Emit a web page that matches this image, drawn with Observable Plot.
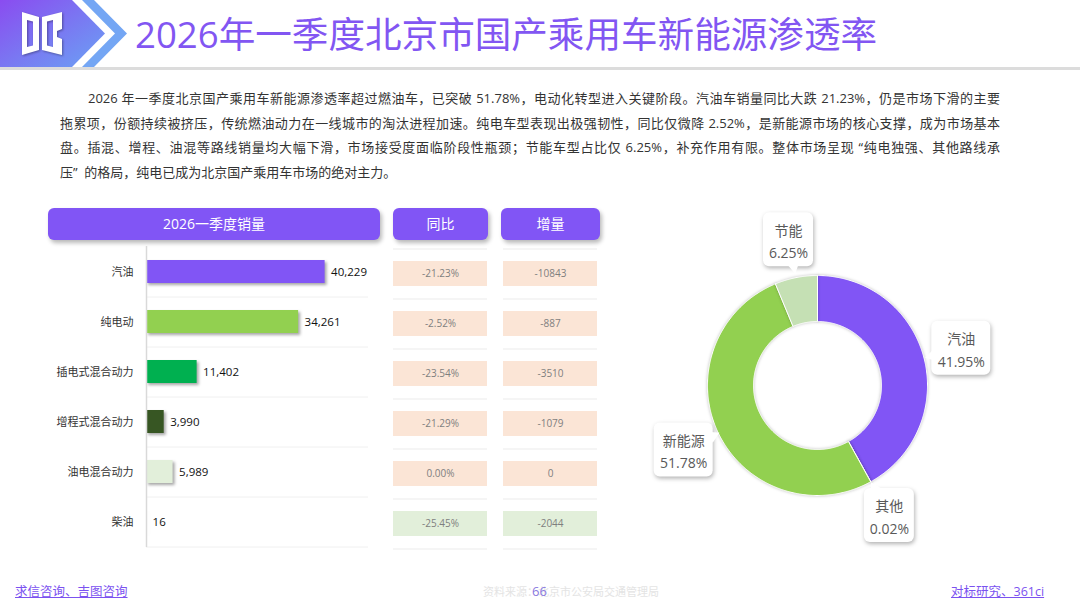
<!DOCTYPE html>
<html><head><meta charset="utf-8">
<script src="https://cdn.jsdelivr.net/npm/d3@7"></script>
<script src="https://cdn.jsdelivr.net/npm/@observablehq/plot@0.6"></script>
<style>
body{margin:0;width:1080px;height:607px;overflow:hidden;background:#fff;position:relative;font-family:"Open Sans","Noto Sans CJK SC",sans-serif;}
.abs{position:absolute}
.title{left:135px;top:8px;font-size:36.6px;line-height:52px;color:#8256f2;white-space:nowrap;font-family:"Open Sans","Noto Sans CJK SC",sans-serif;}
.para{left:60px;width:940px;top:86px;font-size:13px;color:#333;}
.para div{height:24.7px;line-height:24.7px;text-align:justify;text-align-last:justify;}
.para div.last{text-align-last:left;}
.btn{background:#8155f5;color:#fff;border-radius:6px;box-shadow:2px 3px 4px rgba(0,0,0,.28);text-align:center;font-size:14px;line-height:32px;height:32px;top:208px;}
.foot{font-size:12.5px;color:#7b52f0;text-decoration:underline;top:581px;}
#bars g[aria-label="bar"] rect{filter:drop-shadow(2px 2px 1.5px rgba(0,0,0,.35));}
#donut g[aria-label="rect"] rect{filter:drop-shadow(1px 2px 2px rgba(0,0,0,.3));}
#donut g[aria-label="line"]{filter:drop-shadow(0px 0px 1.5px rgba(0,0,0,.25));}
</style></head><body>
<svg class="abs" style="left:0;top:0" width="1080" height="72">
  <defs>
    <linearGradient id="hg" x1="0" y1="0" x2="1" y2="1">
      <stop offset="0" stop-color="#8a4cf0"/><stop offset="1" stop-color="#6aa2f4"/>
    </linearGradient>
  </defs>
  <rect x="0" y="67" width="1080" height="3" fill="#dcdcdc"/>
  <polygon points="0,0 72,0 105,33.5 72,67 0,67" fill="url(#hg)"/>
  <polygon points="82,0 94,0 127,33.5 94,67 82,67 115,33.5" fill="#74a6f4"/>
  <g filter="drop-shadow(1px 1px 1px rgba(0,0,0,.35))">
    <path d="M22,12 L39,17 L39,50 L22,55 Z M27,20 L27,47 L33,45.5 L33,21.5 Z" fill="#fff" fill-rule="evenodd"/>
    <path d="M42,17 L62,12 L62,29 L57,31 L57,37 L62,39 L62,55 L42,50 Z M47,21.5 L47,45.5 L53,47 L53,20 Z" fill="#fff" fill-rule="evenodd"/>
  </g>
</svg>
<div class="abs title">2026年一季度北京市国产乘用车新能源渗透率</div>
<div class="abs para">
  <div style="text-indent:28px">2026 年一季度北京国产乘用车新能源渗透率超过燃油车，已突破 51.78%，电动化转型进入关键阶段。汽油车销量同比大跌 21.23%，仍是市场下滑的主要</div>
  <div>拖累项，份额持续被挤压，传统燃油动力在一线城市的淘汰进程加速。纯电车型表现出极强韧性，同比仅微降 2.52%，是新能源市场的核心支撑，成为市场基本</div>
  <div>盘。插混、增程、油混等路线销量均大幅下滑，市场接受度面临阶段性瓶颈；节能车型占比仅 6.25%，补充作用有限。整体市场呈现 “纯电独强、其他路线承</div>
  <div class="last">压” &nbsp;的格局，纯电已成为北京国产乘用车市场的绝对主力。</div>
</div>
<div class="abs btn" style="left:48px;width:332px">2026一季度销量</div>
<div class="abs btn" style="left:393px;width:95px">同比</div>
<div class="abs btn" style="left:501px;width:99px">增量</div>
<div class="abs" id="bars" style="left:0;top:240px"></div>
<div class="abs" id="table" style="left:393px;top:242px"></div>
<div class="abs" id="donut" style="left:640px;top:210px"></div>
<div class="abs foot" style="left:15px">求信咨询、吉图咨询</div>
<div class="abs foot" style="left:951px">对标研究、361ci</div>
<div class="abs" style="left:483px;top:583px;font-size:11px;color:#e4e4e4">资料来源：北京市公安局交通管理局</div>
<div class="abs" style="left:532px;top:582px;font-size:13px;color:#8a78e0">66</div>
<script>
// ---- data ----
const categories = ["汽油","纯电动","插电式混合动力","增程式混合动力","油电混合动力","柴油"];
const sales = [40229, 34261, 11402, 3990, 5989, 16];
const yoy = ["-21.23%","-2.52%","-23.54%","-21.29%","0.00%","-25.45%"];
const delta = ["-10843","-887","-3510","-1079","0","-2044"];
const tableCols = ["同比","增量"];
const shareNames = ["汽油","其他","新能源","节能"];
const shareValues = [41.95, 0.02, 51.78, 6.25];

// ---- styles ----
const barColors = ["#8155f5","#92d050","#00b050","#375623","#e2efda","#e2efda"];
const cellColors = ["#fbe5d6","#fbe5d6","#fbe5d6","#fbe5d6","#fbe5d6","#e2efda"];
const donutColors = ["#8155f5","#bfbfbf","#92d050","#c5e0b4"];
const font = '"Open Sans","Noto Sans CJK SC",sans-serif';

const rows = categories.map((c,i)=>({cat:c, sales:sales[i], yoy:yoy[i], delta:delta[i]}));

// bar chart
const bars = Plot.plot({
  width:390, height:315, marginLeft:146, marginRight:22, marginTop:6, marginBottom:8,
  style:{fontSize:"11px", color:"#333", fontFamily:font, background:"transparent"},
  x:{domain:[0,50000], axis:null},
  y:{domain:categories, paddingInner:0.54, paddingOuter:0.27, label:null, tickSize:0, tickPadding:13},
  color:{domain:categories, range:barColors},
  marks:[
    Plot.ruleY(rows, {y:"cat", dy:25, stroke:"#f0f0f0", strokeWidth:1}),
    Plot.barX(rows, {x:"sales", y:"cat", fill:"cat"}),
    Plot.ruleX([0], {stroke:"#d9d9d9", strokeWidth:1.5}),
    Plot.text(rows, {x:"sales", y:"cat", text:d=>d3.format(",")(d.sales), dx:6, textAnchor:"start", fontSize:11.5, fill:"#111"})
  ]
});
document.getElementById("bars").appendChild(bars);

// table
const cells = rows.flatMap(r=>[{col:tableCols[0], cat:r.cat, text:r.yoy},{col:tableCols[1], cat:r.cat, text:r.delta}]);
const table = Plot.plot({
  width:204, height:315, marginLeft:0, marginRight:0, marginTop:6, marginBottom:8,
  style:{fontFamily:font, background:"transparent"},
  x:{domain:tableCols, paddingInner:0.1455, paddingOuter:0, axis:null},
  y:{domain:categories, paddingInner:0.5, paddingOuter:0.25, axis:null},
  color:{domain:categories, range:cellColors},
  marks:[
    Plot.cell(cells, {x:"col", y:"cat", fill:"cat", inset:0}),
    Plot.tickY(cells, {x:"col", y:"cat", dy:25, stroke:"#ebebeb", strokeWidth:1.2}),
    Plot.tickY(cells.filter(d=>d.cat===categories[0]), {x:"col", y:"cat", dy:-25, stroke:"#ebebeb", strokeWidth:1.2}),
    Plot.text(cells, {x:"col", y:"cat", text:"text", fontSize:10, fill:"#7f7f7f"})
  ]
});
document.getElementById("table").appendChild(table);

// donut
const R = 110, rOuter = 1, rInner = 64/110;
const arcs = d3.pie().sort(null).value(d=>d.value)(shareNames.map((n,i)=>({name:n, value:shareValues[i], color:donutColors[i]})));
function slicePts(a){
  const n = Math.max(2, Math.ceil((a.endAngle-a.startAngle)/0.01));
  const pts = [];
  for(let k=0;k<=n;k++){const t=a.startAngle+(a.endAngle-a.startAngle)*k/n; pts.push({x:rOuter*Math.sin(t), y:rOuter*Math.cos(t)});}
  for(let k=n;k>=0;k--){const t=a.startAngle+(a.endAngle-a.startAngle)*k/n; pts.push({x:rInner*Math.sin(t), y:rInner*Math.cos(t)});}
  pts.push(pts[0]);
  return pts;
}
const labelR = 1.35;
const labels = arcs.map(a=>{
  const m = (a.startAngle+a.endAngle)/2;
  const pct = a.data.value.toFixed(2)+"%";
  const hw = (5+9*pct.length)/2/R, hh = 27/R;
  const x = labelR*Math.sin(m), y = labelR*Math.cos(m);
  // pointer where the line to the centre leaves the box
  const len = Math.hypot(x,y), ux = -x/len, uy = -y/len;
  const t = Math.min(hw/Math.abs(ux||1e-9), hh/Math.abs(uy||1e-9));
  return {name:a.data.name, pct, x, y, x1:x-hw, x2:x+hw, y1:y-hh, y2:y+hh,
          px:x+ux*t, py:y+uy*t, rot:Math.atan2(ux,uy)*180/Math.PI};
});
const donut = Plot.plot({
  width:380, height:340, margin:0,
  style:{fontFamily:font, background:"transparent"},
  x:{domain:[-177/R, 203/R], axis:null},
  y:{domain:[-165/R, 175/R], axis:null},
  marks:[
    ...arcs.map(a=>Plot.line(slicePts(a), {x:"x", y:"y", fill:a.data.color, stroke:"#fff", strokeWidth:1, strokeLinejoin:"round"})),
    Plot.rect(labels, {x1:"x1", x2:"x2", y1:"y1", y2:"y2", fill:"#fff", rx:6}),
    Plot.dot(labels, {x:"px", y:"py", symbol:"triangle", r:4.5, rotate:"rot", fill:"#fff", stroke:"none"}),
    Plot.text(labels, {x:"x", y:"y", text:d=>d.name+"\n"+d.pct, fontSize:14, lineHeight:1.6, fill:"#595959"})
  ]
});
document.getElementById("donut").appendChild(donut);
</script>
</body></html>
